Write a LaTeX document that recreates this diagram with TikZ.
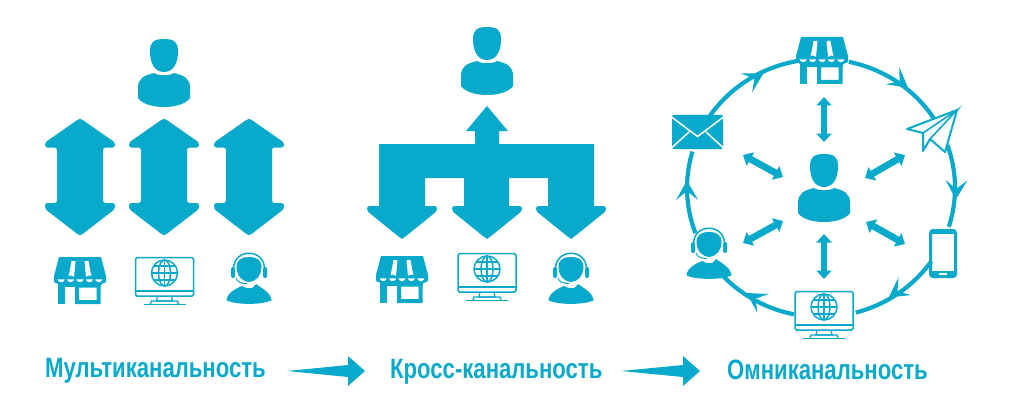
\documentclass[tikz,border=0pt]{standalone}
\usepackage{fontspec}
\setmainfont{Liberation Sans}
\newfontfamily\capfont[FakeStretch=0.79,UprightFont=*-Bold]{Liberation Sans}
\usetikzlibrary{arrows.meta}
\definecolor{teal}{HTML}{09A9CB}
\tikzset{
  solidshape/.style={fill=teal,draw=none},
  outline/.style={draw=teal,line width=1.5pt,fill=none},
  ring/.style={draw=teal,line width=4.2pt},
  duplex/.style={draw=teal,line width=6.8pt,{Triangle[width=15pt,length=8.5pt]}-{Triangle[width=15pt,length=8.5pt]},shorten <=0pt,shorten >=0pt},
  caption/.style={text=teal,font=\capfont\fontsize{28}{28}\selectfont,inner sep=0pt},
  person/.pic={
    \fill[teal] (0,0) .. controls (-10,0) and (-14,3) .. (-14,12)
      .. controls (-14,25) and (-9,33) .. (0,33)
      .. controls (9,33) and (14,25) .. (14,12)
      .. controls (14,3) and (10,0) .. (0,0) -- cycle;
    \fill[teal] (-26,59) -- (-26,49) .. controls (-26,39) and (-20,36.5) .. (-10,34)
      .. controls (-6,37) and (6,37) .. (10,34)
      .. controls (20,36.5) and (26,39) .. (26,49) -- (26,59)
      .. controls (18,71) and (-18,71) .. (-26,59) -- cycle;
  },
  store/.pic={
    \fill[teal] (-21,0) -- (21,0) -- (26,19) [rounded corners=1.5pt] -- (26,26) -- (-26,26) [sharp corners] -- (-26,19) -- cycle;
    \fill[white] (-8.5,4) -- (-4.5,4) -- (-6,20) -- (-11.5,20) -- cycle;
    \fill[white] (4.5,4) -- (8.5,4) -- (11.5,20) -- (6,20) -- cycle;
    \foreach \c in {-18.8,-9.4,0,9.4,18.8}{\fill[teal] (\c,23.5) circle[radius=5];}
    \foreach \c in {-18.8,-9.4,0,9.4,18.8}{\fill[white] (\c-3.6,22.3) -- (\c+3.6,22.3) .. controls (\c+3,26) and (\c-3,26) .. (\c-3.6,22.3) -- cycle;}
    \fill[teal] (-22,26) rectangle (21,30);
    \fill[teal] (-22,26) rectangle (-15,47);
    \fill[teal,even odd rule] (-5,27) -- (20.5,27) -- (20.5,47) -- (-5,47) -- cycle (-1,30.5) rectangle (16.5,43);
  },
  monitor/.pic={
    \draw[outline,rounded corners=1.5pt] (-29,0.7) rectangle (29,39);
    \draw[teal,line width=1.5pt] (-29,34) -- (29,34);
    \draw[outline] (0,16) circle[radius=13];
    \draw[outline] (0,16) ellipse[x radius=6,y radius=13];
    \draw[teal,line width=1.3pt] (0,3) -- (0,29) (-13,16) -- (13,16) (-11,9) -- (11,9) (-11,23) -- (11,23);
    \draw[teal,line width=1.3pt] (-7,39) -- (-8,44) -- (8,44) -- (7,39);
    \draw[teal,line width=1.3pt] (-14,47) -- (-13,44) -- (13,44) -- (14,47);
    \draw[teal,line width=1.5pt] (-21,47.5) -- (21,47.5);
  },
  agent/.pic={
    \fill[teal] (0,4) .. controls (-8,4) and (-12.5,7) .. (-12.5,14)
      .. controls (-12.5,23) and (-6,29) .. (0,29)
      .. controls (6,29) and (12.5,23) .. (12.5,14)
      .. controls (12.5,7) and (8,4) .. (0,4) -- cycle;
    \draw[teal,line width=1.5pt] (-15.5,16) .. controls (-15.5,-5) and (15.5,-5) .. (15.5,16);
    \fill[teal,rounded corners=1.5pt] (-18,14) rectangle (-14,25);
    \fill[teal,rounded corners=1.5pt] (14,14) rectangle (18,25);
    \draw[teal,line width=1pt] (-13,25) .. controls (-12,29) and (-8,30.5) .. (-2,30.5);
    \fill[teal] (-22.5,47.5) .. controls (-22,40) and (-14,36) .. (-7,33) -- (-4,34.5) .. controls (-2,35.5) and (2,35.5) .. (4,34.5) -- (7,31)
      .. controls (14,36) and (22,40) .. (22.5,47.5) .. controls (12,52) and (-12,52) .. (-22.5,47.5) -- cycle;
  },
  envelope/.pic={
    \fill[teal,rounded corners=1.2pt] (-25.5,-17) rectangle (25.5,17);
    \draw[white,line width=1.5pt] (-26,-15) -- (0,4.5) -- (26,-15) (-26,16) -- (-8.5,0) (26,16) -- (8.5,0);
  },
  phone/.pic={
    \draw[teal,line width=3pt,rounded corners=2.5pt] (-12.5,-23) rectangle (12.5,23);
    \fill[teal] (-12,17) rectangle (12,23);
    \fill[teal] (-12,-23) rectangle (12,-20);
    \fill[white] (-4,19.3) rectangle (4,21.3);
  },
  plane/.pic={
    \draw[teal,line width=2pt,line join=round,fill=white]
      (957,110) -- (907,129) -- (923,133) -- (923,151) -- (930,139) -- (945,152) -- cycle;
    \draw[teal,line width=1.6pt] (923,133) -- (957,110) -- (930,139);
  },
  chevron/.pic={\fill[teal] (7.5,0) -- (-12,-11) -- (-3,0) -- (-12,11) -- cycle;},
  dblarrow/.pic={
    \fill[teal,rounded corners=2.5pt] (-1,0.8) -- (1,0.8) -- (35,24.5) -- (35,29.5) -- (23,29.5) -- (23,85) -- (35,85) -- (35,91) -- (1,117.2) -- (-1,117.2) -- (-35,91) -- (-35,85) -- (-23,85) -- (-23,29.5) -- (-35,29.5) -- (-35,24.5) -- cycle;
  },
}
\newcommand{\ringarc}[2]{\draw[ring] plot[domain=#1:#2,samples=30,smooth] ({821+134*cos(\x)},{188+129*sin(\x)});}
\begin{document}
\begin{tikzpicture}[x=1pt,y=-1pt]
\useasboundingbox (0,0) rectangle (1024,409);
% left group
\pic at (164,39) {person};
\pic at (80,118) {dblarrow};
\pic at (164,118) {dblarrow};
\pic at (249,118) {dblarrow};
\pic at (80,257) {store};
\pic at (164.5,257) {monitor};
\pic at (249,253) {agent};
% middle group
\pic at (487,27) {person};
\fill[teal] (487,106) -- (508,131) -- (499,131) -- (499,144) -- (594,144) -- (594,206)
  [rounded corners=2.5pt] -- (606,206) -- (606,211) -- (572,238.5) -- (570,238.5) -- (536,211) -- (536,206) [sharp corners] -- (548,206) -- (548,178) -- (509,178) -- (509,206)
  [rounded corners=2.5pt] -- (522,206) -- (522,211) -- (488,238.5) -- (486,238.5) -- (452,211) -- (452,206) [sharp corners] -- (464,206) -- (464,178) -- (425,178) -- (425,206)
  [rounded corners=2.5pt] -- (437,206) -- (437,211) -- (403,238.5) -- (401,238.5) -- (367,211) -- (367,206) [sharp corners] -- (379,206) -- (379,144) -- (475,144) -- (475,131) -- (466,131) -- cycle;
\pic at (402,256) {store};
\pic at (487,253) {monitor};
\pic at (571,253) {agent};
% right group
\ringarc{-78}{-31.5}
\ringarc{-19.5}{17.5}
\ringarc{34.7}{75}
\ringarc{101.7}{136.8}
\ringarc{159.5}{196.4}
\ringarc{213}{259.6}
\pic[rotate=-37.8] at (902,83) {chevron};
\pic[rotate=-92] at (956,192) {chevron};
\pic[rotate=-145] at (895,293) {chevron};
\pic[rotate=-212] at (753,297) {chevron};
\pic[rotate=-270] at (687,188) {chevron};
\pic[rotate=-330] at (757,77) {chevron};
\pic at (824,154) {person};
\pic at (822,37) {store};
\pic at (824,291) {monitor};
\pic at (709,228) {agent};
\pic at (697.5,132) {envelope};
\pic at (943,253.5) {phone};
\pic at (0,0) {plane};
\coordinate (vt1) at (824,97); \coordinate (vt2) at (824,142);
\coordinate (vb1) at (824,234); \coordinate (vb2) at (824,279);
\coordinate (d1a) at (743,155); \coordinate (d1b) at (783,177);
\coordinate (d2a) at (905,155); \coordinate (d2b) at (865,178);
\coordinate (d3a) at (783,221); \coordinate (d3b) at (743,243);
\coordinate (d4a) at (866,222); \coordinate (d4b) at (905,244);
\draw[duplex] (vt1) -- (vt2);
\draw[duplex] (vb1) -- (vb2);
\draw[duplex] (d1a) -- (d1b);
\draw[duplex] (d2a) -- (d2b);
\draw[duplex] (d3a) -- (d3b);
\draw[duplex] (d4a) -- (d4b);
% captions
\node[caption,anchor=west] (c1) at (45,371) {Мультиканальность};
\node[caption,anchor=west] (c2) at (390,372) {Кросс-канальность};
\node[caption,anchor=west] (c3) at (727,370) {Омниканальность};
\fill[teal] (287,371) -- (348,365) -- (348,356) -- (365,371) -- (348,386) -- (348,377) -- cycle;
\fill[teal] (621,371) -- (683,365) -- (683,356) -- (700,371) -- (683,386) -- (683,377) -- cycle;
\end{tikzpicture}
\end{document}
